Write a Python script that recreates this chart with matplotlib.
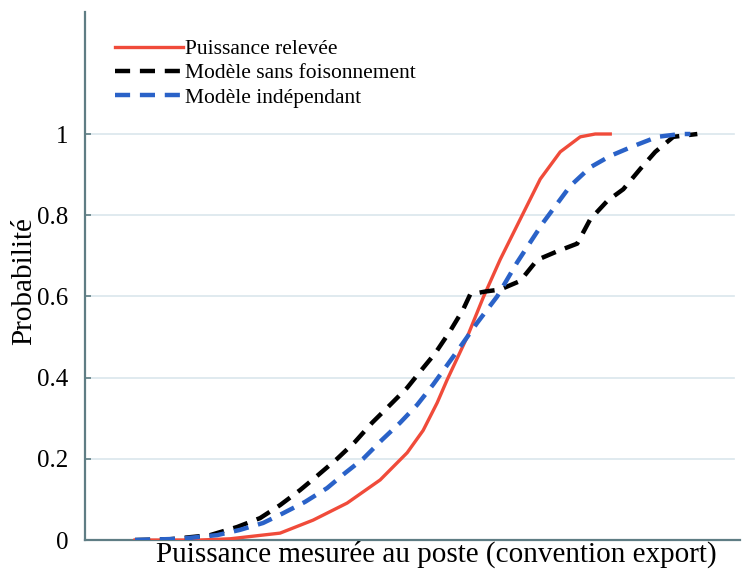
import matplotlib
matplotlib.use('Agg')
import matplotlib.pyplot as plt

# Courbes de probabilité cumulée (axe x sans graduation, unités arbitraires 0-100)
x_releve = [7.63, 17.56, 22.14, 29.77, 34.81, 40.0, 45.04, 49.16, 51.60, 53.74, 55.27,
            58.32, 60.76, 63.36, 66.41, 69.47, 72.52, 75.57, 77.86, 80.15]
p_releve = [0.0, 0.0, 0.003, 0.017, 0.049, 0.091, 0.148, 0.215, 0.27, 0.338, 0.395,
            0.5, 0.597, 0.691, 0.79, 0.889, 0.956, 0.993, 1.0, 1.0]

x_sans_fois = [7.63, 12.98, 19.08, 23.21, 26.72, 29.77, 32.82, 35.57, 38.47, 41.22, 43.82,
               46.26, 49.16, 51.15, 53.44, 55.73, 57.71, 58.78, 61.07, 63.36, 66.41, 69.01,
               72.06, 75.11, 77.10, 79.69, 82.14, 84.73, 87.02, 89.77, 93.44]
p_sans_fois = [0.0, 0.002, 0.012, 0.032, 0.054, 0.086, 0.123, 0.16, 0.2, 0.242, 0.289,
               0.328, 0.375, 0.415, 0.46, 0.515, 0.568, 0.605, 0.612, 0.617, 0.638, 0.69,
               0.711, 0.73, 0.79, 0.835, 0.864, 0.914, 0.956, 0.993, 1.0]

x_indep = [7.63, 14.50, 20.15, 23.66, 27.18, 30.23, 33.59, 36.95, 39.69, 42.44, 45.34,
           48.09, 50.69, 53.13, 56.79, 59.85, 62.90, 65.95, 69.92, 74.05, 77.10, 80.15,
           83.66, 87.33, 90.84, 92.37]
p_indep = [0.0, 0.003, 0.012, 0.025, 0.042, 0.066, 0.094, 0.128, 0.165, 0.2, 0.247,
           0.289, 0.333, 0.383, 0.465, 0.535, 0.6, 0.684, 0.782, 0.872, 0.918, 0.946,
           0.970, 0.993, 1.0, 1.0]

yticks = [0, 0.2, 0.4, 0.6, 0.8, 1]
ytick_labels = ['0', '0.2', '0.4', '0.6', '0.8', '1']

plt.rcParams['font.family'] = ['Liberation Serif', 'DejaVu Serif']
spine_col = '#5f7d84'

fig = plt.figure(figsize=(7.43, 5.7), dpi=100)
ax = fig.add_axes([0.1144, 0.0526, 0.882, 0.926])

ax.plot(x_releve, p_releve, color='#f04b3a', lw=2.4, label='Puissance relevée', zorder=3)
ax.plot(x_sans_fois, p_sans_fois, color='black', lw=3.2, dashes=(3.4, 2.2),
        label='Modèle sans foisonnement', zorder=4)
ax.plot(x_indep, p_indep, color='#2a62c8', lw=3.2, dashes=(3.4, 2.2),
        label='Modèle indépendant', zorder=5)

ax.set_xlim(0, 100)
ax.set_ylim(0, 1.3)
ax.set_yticks(yticks)
ax.set_yticklabels(ytick_labels)
ax.set_xticks([])
for y in yticks[1:]:
    ax.axhline(y, xmin=0, xmax=0.99, color='#dae6ec', lw=1.2, zorder=1)

for s in ['top', 'right']:
    ax.spines[s].set_visible(False)
for s in ['left', 'bottom']:
    ax.spines[s].set_color(spine_col)
    ax.spines[s].set_linewidth(1.6)

ax.tick_params(axis='y', direction='in', length=4, width=1.2, color=spine_col,
               labelsize=18, pad=12)
ax.set_ylabel('Probabilité', fontsize=21)
ax.yaxis.set_label_coords(-0.073, 0.49)
ax.set_xlabel('Puissance mesurée au poste (convention export)', fontsize=21)
ax.xaxis.set_label_coords(0.536, -0.002)

ax.legend(loc='upper left', bbox_to_anchor=(0.046, 0.949), frameon=False, fontsize=15.5,
          handlelength=3.15, handletextpad=0.1, labelspacing=0.19, borderaxespad=0,
          borderpad=0)

fig.savefig('out.png', dpi=100)
